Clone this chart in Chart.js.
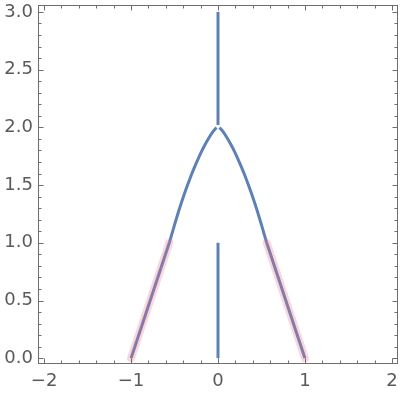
<!DOCTYPE html>
<html><head><meta charset="utf-8">
<script src="https://cdn.jsdelivr.net/npm/chart.js@4/dist/chart.umd.min.js"></script>
<style>html,body{margin:0;padding:0;background:#fff}#wrap{width:400px;height:396px}</style>
</head><body><div id="wrap"><canvas id="c" width="400" height="396"></canvas></div>
<script>
// Data
const leftLineX = [-1.0, -0.56];
const leftLineY = [0.0, 1.0];
const rightLineX = [0.56, 1.0];
const rightLineY = [1.0, 0.0];
const leftArcX = [-0.56, -0.5, -0.45, -0.4, -0.35, -0.3, -0.25, -0.2, -0.15, -0.1, -0.06, -0.03, -0.015];
const leftArcY = [1.0, 1.155, 1.28, 1.395, 1.50, 1.60, 1.69, 1.775, 1.85, 1.915, 1.96, 1.988, 1.997];
const rightArcX = [0.015, 0.03, 0.06, 0.1, 0.15, 0.2, 0.25, 0.3, 0.35, 0.4, 0.45, 0.5, 0.56];
const rightArcY = [1.997, 1.988, 1.96, 1.915, 1.85, 1.775, 1.69, 1.60, 1.50, 1.395, 1.28, 1.155, 1.0];
const lowerStemX = [0, 0];
const lowerStemY = [0.0, 1.0];
const upperStemX = [0, 0];
const upperStemY = [2.02, 3.0];
const xTicks = [-2, -1, 0, 1, 2];
const yTicks = [0, 0.5, 1, 1.5, 2, 2.5, 3];

const pts = (xs, ys) => xs.map((x, i) => ({x, y: ys[i]}));
const BLUE = '#5E81B5';
const PINK = 'rgba(232,110,132,0.28)';
const base = {showLine: true, pointRadius: 0, fill: false, borderWidth: 3, borderColor: BLUE};

const frame = {
  id: 'frame',
  afterDraw(chart) {
    const {ctx, chartArea: a, scales: {x, y}} = chart;
    ctx.save();
    ctx.strokeStyle = '#6e6e6e';
    ctx.lineWidth = 1;
    const L = Math.floor(a.left) + 0.5, R = Math.floor(a.right) - 0.5;
    const T = Math.floor(a.top) + 0.5, B = Math.floor(a.bottom) - 0.5;
    ctx.strokeRect(L, T, R - L, B - T);
    ctx.beginPath();
    for (let i = -20; i <= 20; i += 2) {
      const px = Math.round(x.getPixelForValue(i / 10)) + 0.5;
      const len = (i % 10 === 0) ? 5 : 3;
      ctx.moveTo(px, B); ctx.lineTo(px, B - len);
      ctx.moveTo(px, T); ctx.lineTo(px, T + len);
    }
    for (let i = 0; i <= 30; i++) {
      const py = Math.round(y.getPixelForValue(i / 10)) + 0.5;
      const len = (i % 5 === 0) ? 5 : 3;
      ctx.moveTo(L, py); ctx.lineTo(L + len, py);
      ctx.moveTo(R, py); ctx.lineTo(R - len, py);
    }
    ctx.stroke();
    ctx.restore();
  }
};

new Chart(document.getElementById('c'), {
  type: 'scatter',
  data: {
    datasets: [
      {...base, data: pts(leftLineX, leftLineY), borderColor: PINK, borderWidth: 8, borderCapStyle: 'round'},
      {...base, data: pts(rightLineX, rightLineY), borderColor: PINK, borderWidth: 8, borderCapStyle: 'round'},
      {...base, data: pts(leftLineX, leftLineY)},
      {...base, data: pts(rightLineX, rightLineY)},
      {...base, data: pts(leftArcX, leftArcY), cubicInterpolationMode: 'monotone'},
      {...base, data: pts(rightArcX, rightArcY), cubicInterpolationMode: 'monotone'},
      {...base, data: pts(lowerStemX, lowerStemY)},
      {...base, data: pts(upperStemX, upperStemY)}
    ]
  },
  options: {
    responsive: false,
    animation: false,
    layout: {padding: {top: 5, right: 2, left: 0, bottom: 0}},
    plugins: {legend: {display: false}, tooltip: {enabled: false}},
    scales: {
      x: {
        type: 'linear', min: -2.07, max: 2.07,
        afterBuildTicks: s => { s.ticks = xTicks.map(v => ({value: v})); },
        afterFit: s => { s.height = 32; s.paddingLeft = 0; s.paddingRight = 0; },
        grid: {display: false, drawTicks: false},
        border: {display: false},
        ticks: {
          padding: 7, color: '#5a5a5a', maxRotation: 0,
          font: {family: 'DejaVu Sans', size: 18},
          callback: v => v < 0 ? '\u2212' + Math.abs(v) : String(v)
        }
      },
      y: {
        type: 'linear', min: -0.05, max: 3.06,
        afterBuildTicks: s => { s.ticks = yTicks.map(v => ({value: v})); },
        afterFit: s => { s.width = 38; s.paddingTop = 0; s.paddingBottom = 0; },
        grid: {display: false, drawTicks: false},
        border: {display: false},
        ticks: {
          padding: 5, color: '#5a5a5a',
          font: {family: 'DejaVu Sans', size: 18},
          callback: v => Number(v).toFixed(1)
        }
      }
    }
  },
  plugins: [frame]
});
</script>
</body></html>
